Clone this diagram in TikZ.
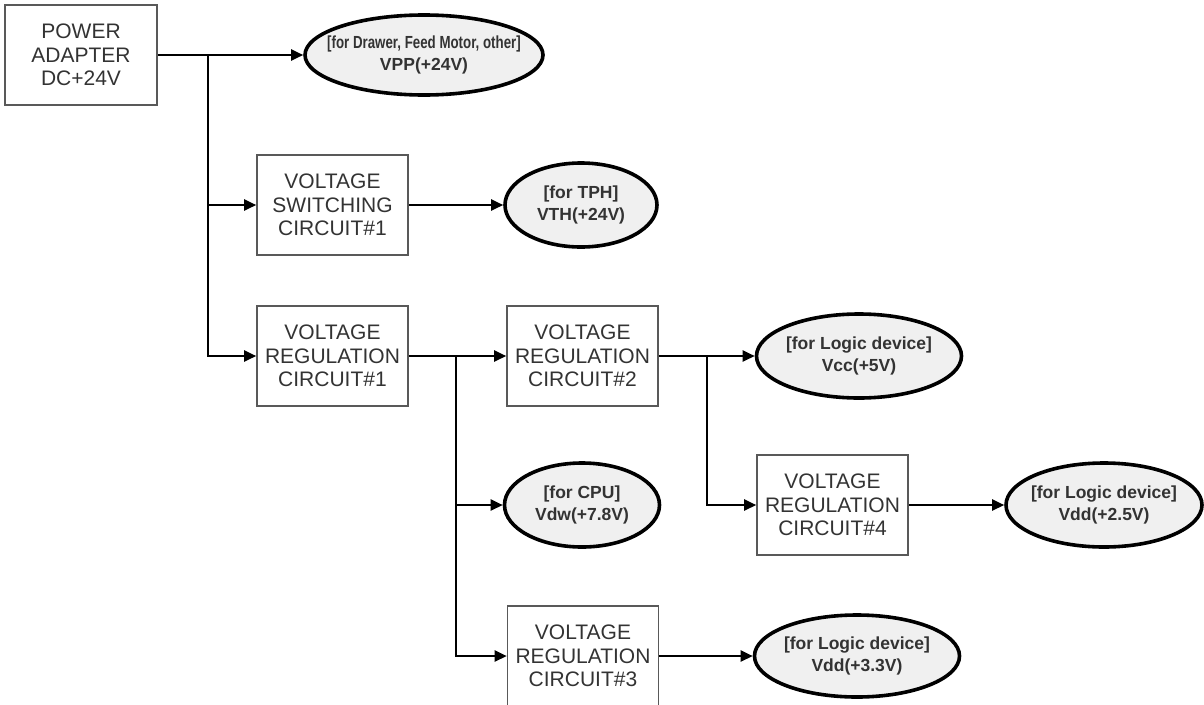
\documentclass[tikz,border=0pt]{standalone}
\usepackage{fontspec}
\setmainfont{Liberation Sans}
\usetikzlibrary{arrows.meta,shapes.geometric}
\tikzset{
	box/.style={draw=black!65, line width=1.6pt, fill=white, minimum width=151pt, minimum height=100pt, inner sep=0pt, align=center, text=black!80, font=\fontsize{21}{23.5}\selectfont},
	supply/.style={ellipse, draw=black, line width=3.6pt, fill=black!6, inner sep=-8pt, align=center, text=black!80, font=\bfseries\fontsize{17.5}{21.5}\selectfont},
	conn/.style={line width=2.4pt, -{Triangle[length=12pt,width=11pt]}}
}

\begin{document}
\begin{tikzpicture}[x=1pt, y=-1pt]
			%%%%% START %%%%%
			\useasboundingbox (0, 0) rectangle (1204, 704);
			
			\node[box, minimum width=152pt] (adapter) at (81, 55) {POWER\\ADAPTER\\DC+24V};
			\node[supply, inner xsep=-30pt, minimum width=238pt, minimum height=80pt] (vpp) at (424, 55) {\scalebox{0.76}[1]{[for Drawer, Feed Motor, other]}\\VPP(+24V)};
			
			\node[box] (vsw) at (332.5, 205) {VOLTAGE\\SWITCHING\\CIRCUIT\#1};
			\node[supply, minimum width=152pt, minimum height=84pt] (vth) at (581, 205) {[for TPH]\\VTH(+24V)};
			
			\node[box] (reg1) at (332.5, 356) {VOLTAGE\\REGULATION\\CIRCUIT\#1};
			\node[box] (reg2) at (582.5, 356) {VOLTAGE\\REGULATION\\CIRCUIT\#2};
			\node[supply, minimum width=205pt, minimum height=84pt] (vcc) at (859, 356) {[for Logic device]\\Vcc(+5V)};
			
			\node[supply, minimum width=155pt, minimum height=84pt] (vdw) at (582, 505) {[for CPU]\\Vdw(+7.8V)};
			\node[box] (reg4) at (832.5, 505) {VOLTAGE\\REGULATION\\CIRCUIT\#4};
			\node[supply, minimum width=196pt, minimum height=84pt] (vdd25) at (1104, 505) {[for Logic device]\\Vdd(+2.5V)};
			
			\node[box] (reg3) at (583, 656) {VOLTAGE\\REGULATION\\CIRCUIT\#3};
			\node[supply, minimum width=205pt, minimum height=82pt] (vdd33) at (857, 656) {[for Logic device]\\Vdd(+3.3V)};
			
			% branch points
			\coordinate (j1) at (208, 55);
			\coordinate (j2) at (456, 356);
			\coordinate (j3) at (707, 356);
			
			\draw[conn] (adapter) -- (vpp);
			\draw[conn] (j1) |- (vsw);
			\draw[conn] (j1) |- (reg1);
			\draw[conn] (vsw) -- (vth);
			
			\draw[conn] (reg1) -- (reg2);
			\draw[conn] (j2) |- (vdw);
			\draw[conn] (j2) |- (reg3);
			\draw[conn] (reg3) -- (vdd33);
			
			\draw[conn] (reg2) -- (vcc);
			\draw[conn] (j3) |- (reg4);
			\draw[conn] (reg4) -- (vdd25);
			%%%%% END %%%%%
		\end{tikzpicture}
\end{document}
